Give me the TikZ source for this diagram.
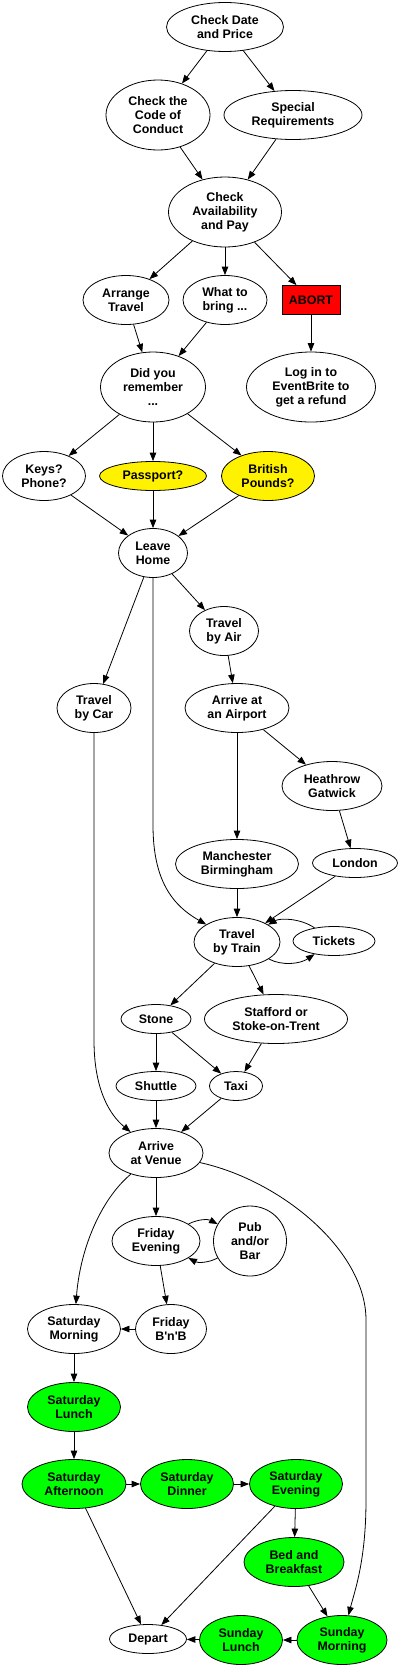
\documentclass[tikz,border=0pt]{standalone}
\usepackage{fontspec}
\setmainfont{Liberation Sans}[Ligatures=TeXOff]
\usetikzlibrary{arrows.meta, shapes.geometric}
\tikzset{%
   % every step of the trip is an ellipse, sized by hand like the dot output
   ev/.style={
      ellipse,
      draw,
      line width=.8pt,
      inner sep=0pt,
      align=center,
      font=\bfseries\fontsize{12.4}{14}\selectfont
   },
   l1/.style={minimum height=29},
   l2/.style={minimum height=49},
   l3/.style={minimum height=70},
   wd/.style={minimum width=#1},
   ask/.style={fill=yellow},
   conf/.style={fill=green},
   halt/.style={
      rectangle,
      draw,
      fill=red,
      line width=.8pt,
      minimum width=58,
      minimum height=29,
      font=\bfseries\fontsize{12.4}{14}\selectfont
   },
   flow/.style={
      -{Triangle[length=8.5pt, width=6.5pt]},
      line width=.8pt
   },
}

\begin{document}
\begin{tikzpicture}[x=1pt, y=-1pt]
  \useasboundingbox (0,0) rectangle (400,1668);

  \node[ev, l2, wd=117] (cdp)   at (225,27)   {Check Date\\and Price};
  \node[ev, l3, wd=104] (coc)   at (158,115)  {Check the\\Code of\\Conduct};
  \node[ev, l2, wd=138] (spec)  at (293,115)  {Special\\Requirements};
  \node[ev, l3, wd=113] (cap)   at (225,212)  {Check\\Availability\\and Pay};
  \node[ev, l2, wd=86]  (arr)   at (126,300)  {Arrange\\Travel};
  \node[ev, l2, wd=84]  (bring) at (225,300)  {What to\\bring ...};
  \node[halt]           (abort) at (311,300)  {ABORT};
  \node[ev, l3, wd=105] (dyr)   at (153,387)  {Did you\\remember\\...};
  \node[ev, l3, wd=129] (login) at (311,387)  {Log in to\\EventBrite to\\get a refund};
  \node[ev, l2, wd=83]  (keys)  at (44,476)   {Keys?\\Phone?};
  \node[ev, l1, ask, wd=107] (pass) at (153,476) {Passport?};
  \node[ev, l2, ask, wd=93]  (gbp)  at (268,476) {British\\Pounds?};
  \node[ev, l2, wd=69]  (home)  at (153,553)  {Leave\\Home};
  \node[ev, l2, wd=69]  (air)   at (224,631)  {Travel\\by Air};
  \node[ev, l2, wd=74]  (car)   at (94,708)   {Travel\\by Car};
  \node[ev, l2, wd=104] (port)  at (237,708)  {Arrive at\\an Airport};
  \node[ev, l2, wd=100] (lhr)   at (332,786)  {Heathrow\\Gatwick};
  \node[ev, l2, wd=123] (man)   at (237,864)  {Manchester\\Birmingham};
  \node[ev, l1, wd=85]  (lon)   at (355,863)  {London};
  \node[ev, l2, wd=86]  (train) at (237,942)  {Travel\\by Train};
  \node[ev, l1, wd=82]  (tix)   at (334,941)  {Tickets};
  \node[ev, l1, wd=70]  (stone) at (156,1019) {Stone};
  \node[ev, l2, wd=143] (staf)  at (276,1019) {Stafford or\\Stoke-on-Trent};
  \node[ev, l1, wd=80]  (shut)  at (156,1086) {Shuttle};
  \node[ev, l1, wd=53]  (taxi)  at (236,1086) {Taxi};
  \node[ev, l2, wd=94]  (venue) at (156,1153) {Arrive\\at Venue};
  \node[ev, l2, wd=88]  (fri)   at (156,1241) {Friday\\Evening};
  \node[ev, l3, wd=73]  (pub)   at (250,1241) {Pub\\and/or\\Bar};
  \node[ev, l2, wd=93]  (satm)  at (74,1329)  {Saturday\\Morning};
  \node[ev, l2, wd=71]  (bnb)   at (171,1329) {Friday\\B'n'B};
  \node[ev, l2, conf, wd=93]  (satl) at (74,1407)  {Saturday\\Lunch};
  \node[ev, l2, conf, wd=104] (sata) at (74,1484)  {Saturday\\Afternoon};
  \node[ev, l2, conf, wd=93]  (satd) at (187,1484) {Saturday\\Dinner};
  \node[ev, l2, conf, wd=93]  (sate) at (296,1484) {Saturday\\Evening};
  \node[ev, l2, conf, wd=100] (bb)   at (294,1562) {Bed and\\Breakfast};
  \node[ev, l1, wd=77]  (dep)   at (148,1639) {Depart};
  \node[ev, l2, conf, wd=83]  (sunl) at (241,1640) {Sunday\\Lunch};
  \node[ev, l2, conf, wd=90]  (sunm) at (342,1640) {Sunday\\Morning};

  \path[flow] (cdp) edge (coc) edge (spec)
              (coc) edge (cap)  (spec) edge (cap)
              (cap) edge (arr) edge (bring) edge (abort)
              (abort) edge (login)
              (arr) edge (dyr)  (bring) edge (dyr)
              (dyr) edge (keys) edge (pass) edge (gbp)
              (keys) edge (home) (pass) edge (home) (gbp) edge (home)
              (home) edge (car) edge (air)
              (air) edge (port)
              (port) edge (lhr) edge (man)
              (lhr) edge (lon)
              (man) edge (train) (lon) edge (train)
              (train) edge (stone) edge (staf)
              (stone) edge (shut) edge (taxi)
              (staf) edge (taxi)
              (shut) edge (venue) (taxi) edge (venue)
              (venue) edge (fri)
              (fri) edge (bnb)  (bnb) edge (satm)
              (satm) edge (satl) (satl) edge (sata)
              (sata) edge (satd) (satd) edge (sate)
              (sate) edge (bb)  (bb) edge (sunm)
              (sunm) edge (sunl) (sunl) edge (dep)
              (sata) edge (dep) (sate) edge (dep);

  % the longer routes
  \draw[flow] (home) -- (153,825) .. controls (153,880) and (172,905) .. (train);
  \draw[flow] (car) -- (94,1040) .. controls (94,1090) and (110,1115) .. (venue);
  \draw[flow] (venue) .. controls (100,1200) and (80,1250) .. (satm);
  \draw[flow] (venue) .. controls (280,1180) and (366,1250) .. (366,1320)
     -- (366,1500) .. controls (366,1560) and (355,1590) .. (sunm);

  % there and back
  \draw[flow] (tix) .. controls (300,918) and (280,918) .. (train);
  \draw[flow] (train) .. controls (282,966) and (300,964) .. (tix);
  \draw[flow] (fri) .. controls (198,1219) and (208,1219) .. (pub);
  \draw[flow] (pub) .. controls (208,1263) and (198,1263) .. (fri);
\end{tikzpicture}
\end{document}
